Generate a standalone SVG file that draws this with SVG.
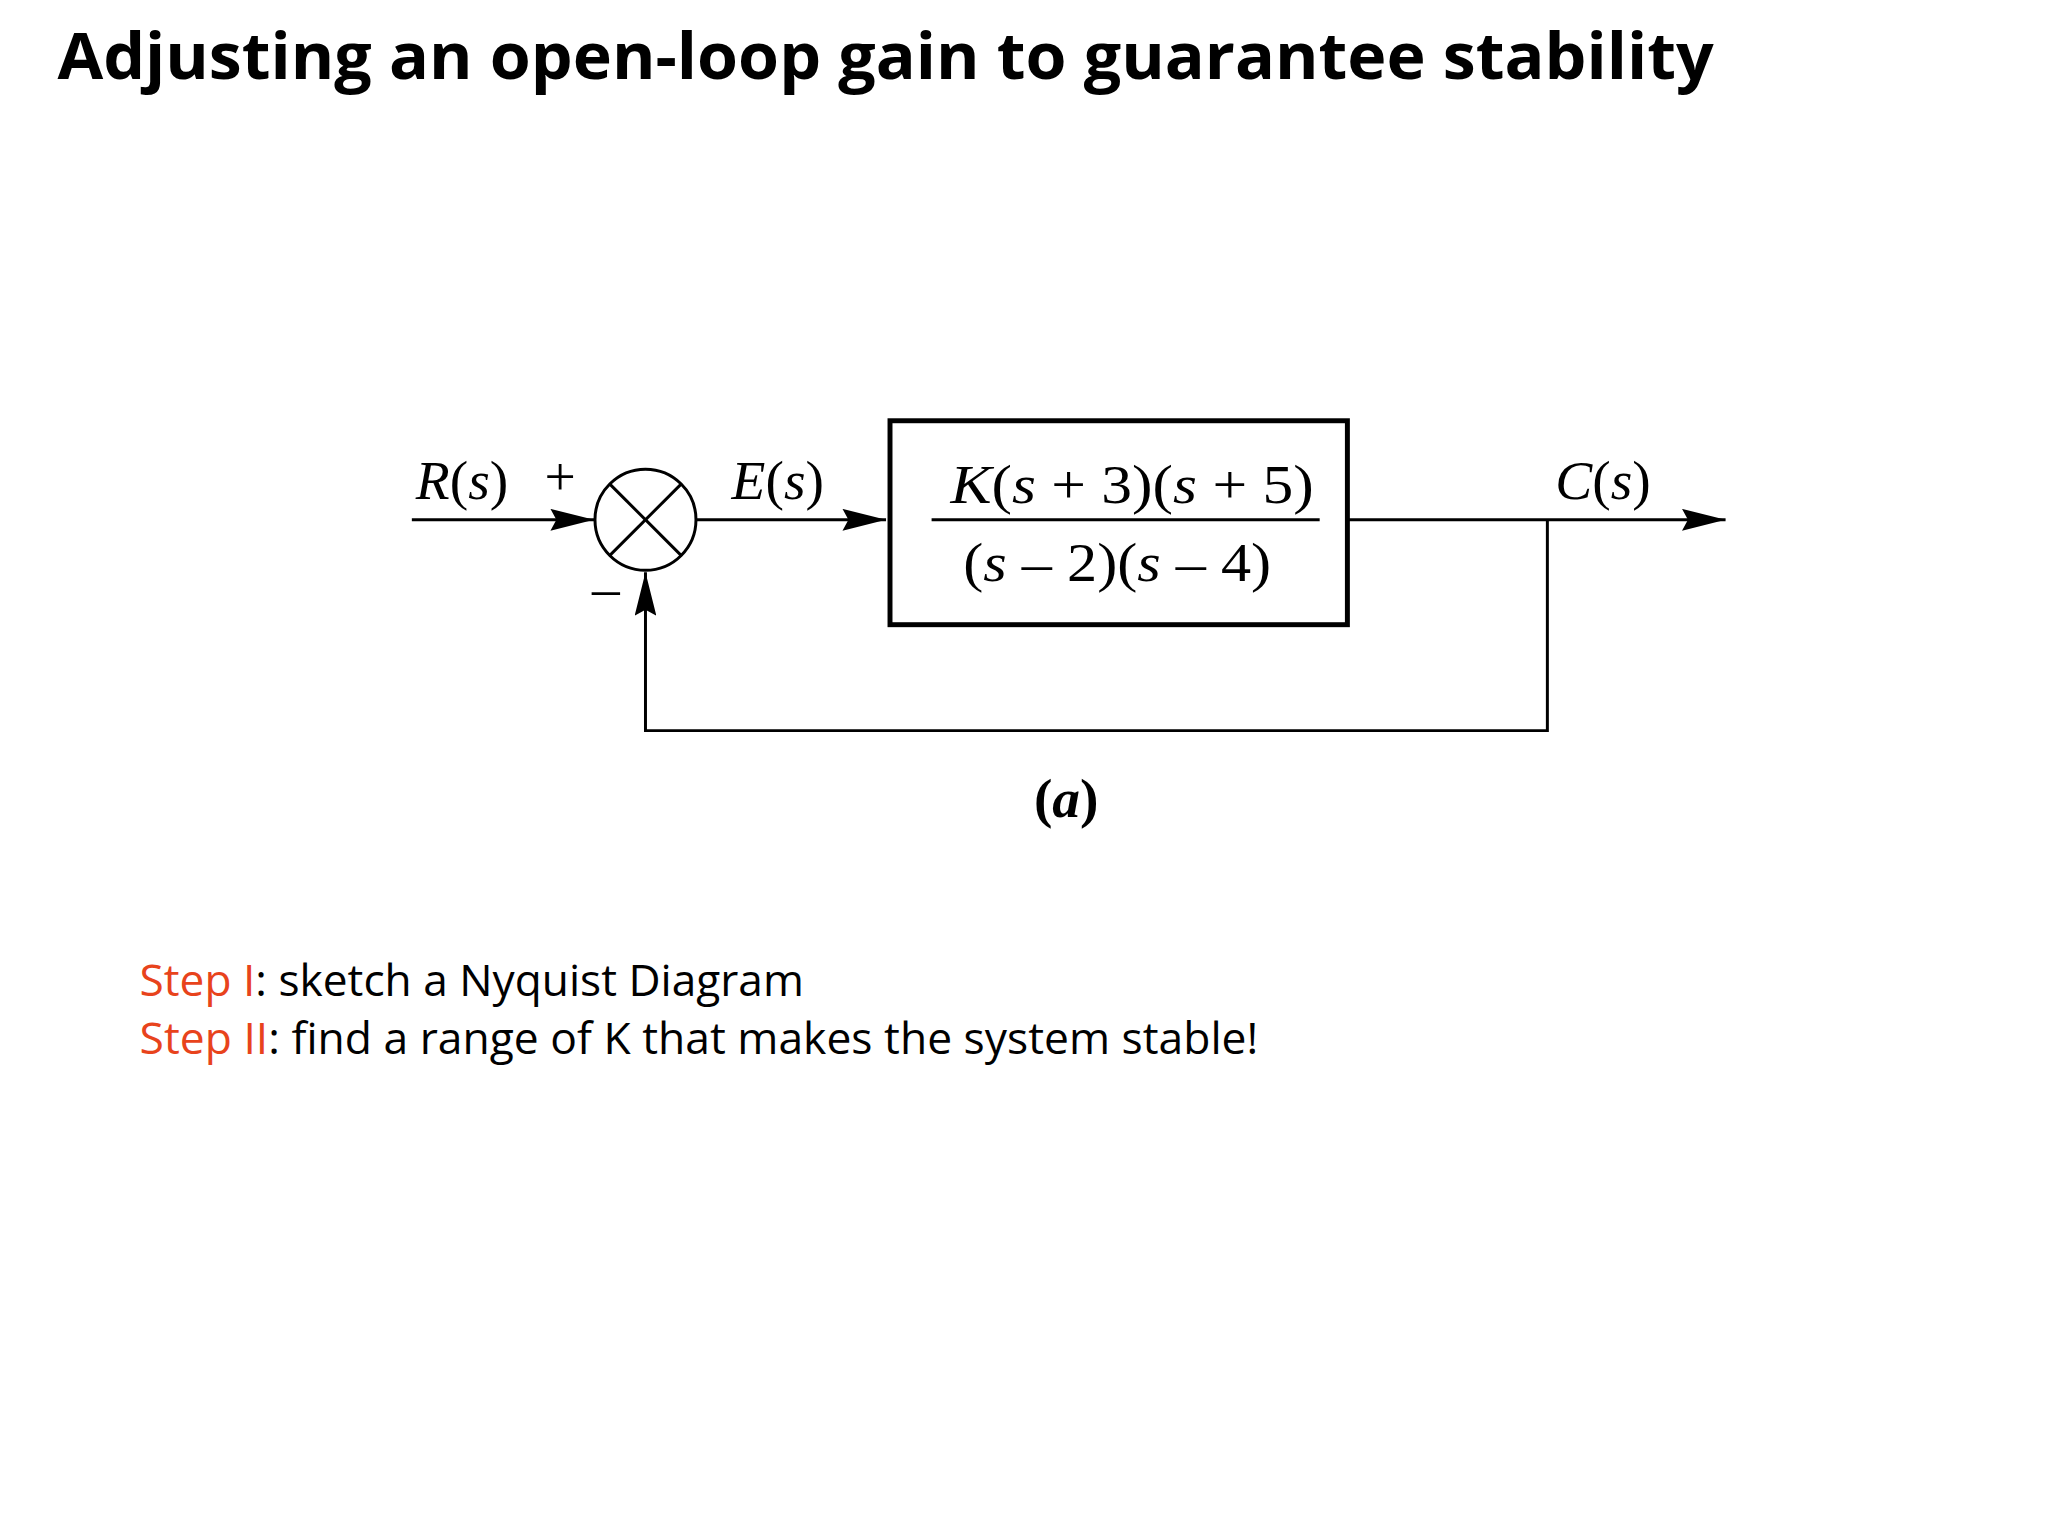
<svg xmlns="http://www.w3.org/2000/svg" width="2048" height="1536" viewBox="0 0 2048 1536">
<defs>
<marker id="arrB" markerWidth="44" markerHeight="22" refX="44" refY="11" orient="auto" markerUnits="userSpaceOnUse" viewBox="0 0 44 22"><path d="M0,0 L44,11 L0,22 L6,11 Z" fill="#000"/></marker>
</defs>
<style>
.m{font-family:"Liberation Serif",serif;font-size:56px;fill:#000}
.i{font-style:italic}
.s{font-family:"Open Sans","Liberation Sans",sans-serif;font-size:44px;fill:#000}
.r{fill:#E8431C}
.w{stroke:#000;stroke-width:3;fill:none}
</style>
<rect width="2048" height="1536" fill="#fff"/>
<g transform="scale(0.99)">
<text x="58" y="80" font-family="Open Sans, Liberation Sans, sans-serif" font-weight="bold" font-size="66" textLength="1673" lengthAdjust="spacingAndGlyphs">Adjusting an open-loop gain to guarantee stability</text>
<g id="sum">
<circle cx="652" cy="525" r="51" class="w"/>
<line x1="616" y1="489" x2="688" y2="561" class="w"/>
<line x1="688" y1="489" x2="616" y2="561" class="w"/>
</g>
<g id="plant">
<rect x="899" y="425" width="462" height="206" fill="none" stroke="#000" stroke-width="5"/>
<line x1="941" y1="525" x2="1333" y2="525" class="w"/>
<text class="m" x="960" y="508" textLength="367" lengthAdjust="spacingAndGlyphs"><tspan class="i">K</tspan>(<tspan class="i">s</tspan> + 3)(<tspan class="i">s</tspan> + 5)</text>
<text class="m" x="973" y="587" textLength="311" lengthAdjust="spacingAndGlyphs">(<tspan class="i">s</tspan> – 2)(<tspan class="i">s</tspan> – 4)</text>
</g>
<g id="connectors">
<line x1="416" y1="525" x2="600" y2="525" class="w" marker-end="url(#arrB)"/>
<line x1="703" y1="525" x2="895" y2="525" class="w" marker-end="url(#arrB)"/>
<line x1="1361" y1="525" x2="1743" y2="525" class="w" marker-end="url(#arrB)"/>
<polyline points="1563,525 1563,738 652,738 652,578" class="w" marker-end="url(#arrB)"/>
</g>
<g id="labels">
<text class="m" x="420" y="504"><tspan class="i">R</tspan>(<tspan class="i">s</tspan>)</text>
<text class="m" x="550" y="500" font-size="44">+</text>
<text class="m" x="598" y="612" font-size="44">–</text>
<text class="m" x="739" y="504"><tspan class="i">E</tspan>(<tspan class="i">s</tspan>)</text>
<text class="m" x="1571" y="504"><tspan class="i">C</tspan>(<tspan class="i">s</tspan>)</text>
<text class="m" x="1077" y="825" text-anchor="middle" font-weight="bold" font-size="54">(<tspan class="i">a</tspan>)</text>
</g>
<text class="s" x="141" y="1006" textLength="671" lengthAdjust="spacingAndGlyphs"><tspan class="r">Step I</tspan>: sketch a Nyquist Diagram</text>
<text class="s" x="141" y="1065" textLength="1130" lengthAdjust="spacingAndGlyphs"><tspan class="r">Step II</tspan>: find a range of K that makes the system stable!</text>
</g>
</svg>
